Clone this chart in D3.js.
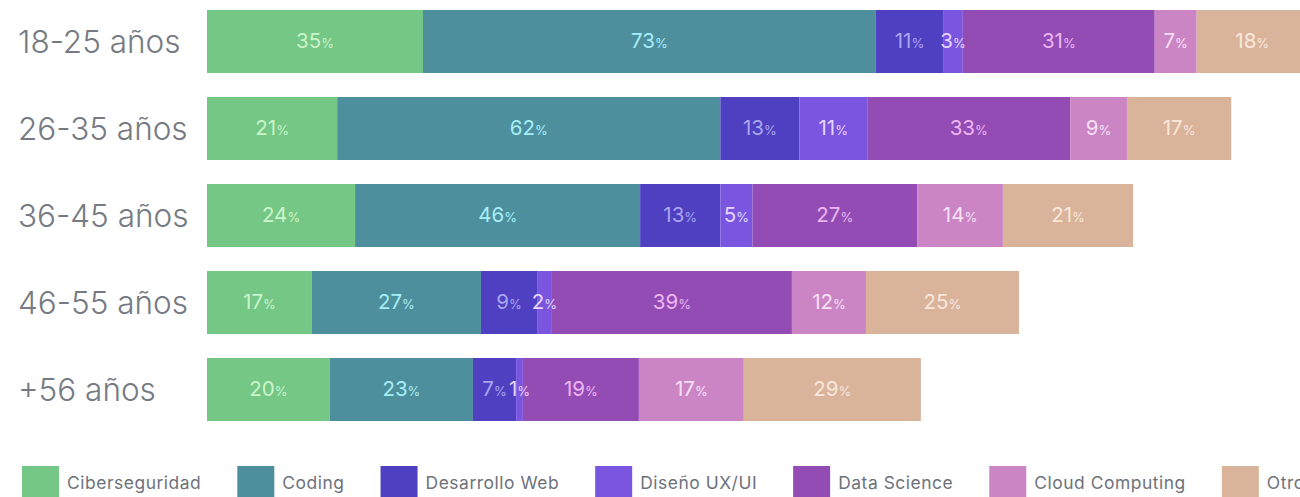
<!DOCTYPE html>
<html><head><meta charset="utf-8">
<script src="https://cdn.jsdelivr.net/npm/d3@7"></script>
<style>
html,body{margin:0;padding:0;background:#fff;overflow:hidden}
svg{display:block}
</style></head>
<body>
<svg id="chart" width="1300" height="497"></svg>
<script>
const ageGroups = ["18-25 años","26-35 años","36-45 años","46-55 años","+56 años"];
const seriesNames = ["Ciberseguridad","Coding","Desarrollo Web","Diseño UX/UI","Data Science","Cloud Computing","Otros"];
const ciberseguridad = [35.0,21.1,24.0,17.0,19.9];
const coding = [73.4,62.1,46.2,27.4,23.2];
const desarrolloWeb = [10.9,12.8,13.0,9.1,7.0];
const disenoUXUI = [3.2,11.0,5.2,2.4,1.1];
const dataScience = [31.1,32.9,26.7,38.9,18.8];
const cloudComputing = [6.8,9.2,13.9,12.0,17.0];
const otros = [18.0,16.9,21.1,24.8,28.7];
const seriesColors = ["#74c784","#4e8f9d","#4e40c0","#7a55e0","#944cb5","#cb85c5","#d9b49b"];
const labelColors = ["#cbf5cb","#a6eef7","#aaa6f2","#e6d6ff","#ecb6f1","#f6e0f5","#f9e7db"];

const seriesValues = [ciberseguridad,coding,desarrolloWeb,disenoUXUI,dataScience,cloudComputing,otros];
const rows = ageGroups.map((g,i)=>{
  const r = {group:g};
  seriesNames.forEach((s,j)=>r[s]=seriesValues[j][i]);
  return r;
});
const stacked = d3.stack().keys(seriesNames)(rows);
const maxTotal = d3.max(rows, r=>d3.sum(seriesNames, s=>r[s]));

const svg = d3.select("#chart");
const x = d3.scaleLinear().domain([0,maxTotal]).range([207, 207 + maxTotal*6.17]);
const y = d3.scaleBand().domain(ageGroups).range([-2, 433]).paddingInner(0.276).paddingOuter(0.138);

const font = "Inter, sans-serif";

// category labels
svg.append("g").selectAll("text").data(ageGroups).join("text")
  .attr("x",18).attr("y",d=>y(d)+y.bandwidth()/2)
  .attr("dy","0.36em")
  .attr("font-family",font).attr("font-weight",300).attr("font-size",31.5)
  .attr("fill","#767b83")
  .text(d=>d);

const layers = svg.append("g").selectAll("g").data(stacked).join("g")
  .attr("fill",(d,i)=>seriesColors[i]);
layers.selectAll("rect").data(d=>d.map(v=>({v, key:d.key}))).join("rect")
  .attr("x",d=>x(d.v[0])).attr("width",d=>x(d.v[1])-x(d.v[0]))
  .attr("y",d=>y(d.v.data.group)).attr("height",y.bandwidth());

const labels = svg.append("g").selectAll("g").data(stacked).join("g")
  .attr("fill",(d,i)=>labelColors[i]);
labels.selectAll("text").data(d=>d.map(v=>({v,key:d.key}))).join("text")
  .attr("x",d=>(x(d.v[0])+x(d.v[1]))/2)
  .attr("y",d=>y(d.v.data.group)+y.bandwidth()/2)
  .attr("dy","0.38em")
  .attr("text-anchor","middle")
  .attr("font-family",font).attr("font-weight",400)
  .each(function(d){
    const t = d3.select(this);
    t.append("tspan").attr("font-size",20.5).text(Math.round(d.v[1]-d.v[0]));
    t.append("tspan").attr("font-size",13).text("%");
  });

// legend
const legend = svg.append("g");
let lx = 22;
seriesNames.forEach((s,i)=>{
  const g = legend.append("g").attr("transform",`translate(${lx},466)`);
  g.append("rect").attr("width",37).attr("height",37).attr("fill",seriesColors[i]);
  const t = g.append("text").attr("x",45).attr("y",17).attr("dy","0.36em")
    .attr("font-family",font).attr("font-size",17.4).attr("letter-spacing",0.55)
    .attr("fill","#6d727b").text(s);
  lx += 45 + t.node().getComputedTextLength() + 36;
});
</script>
</body></html>
